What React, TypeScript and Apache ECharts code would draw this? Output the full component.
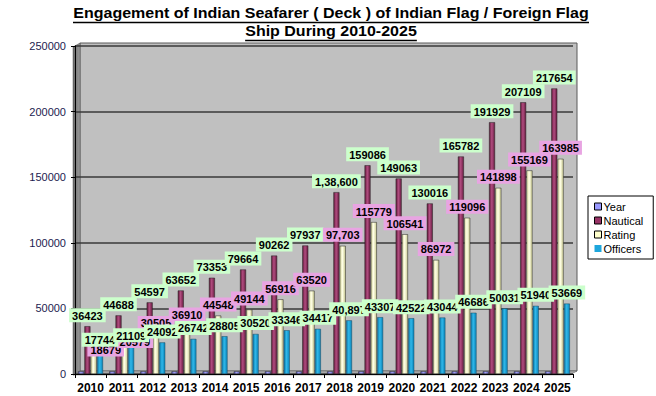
import React, { useEffect, useRef } from "react";
import * as echarts from "echarts";

const years = [2010, 2011, 2012, 2013, 2014, 2015, 2016, 2017, 2018, 2019, 2020, 2021, 2022, 2023, 2024, 2025];
const nautical = [36423, 44688, 54597, 63652, 73353, 79664, 90262, 97937, 138600, 159086, 149063, 130016, 165782, 191929, 207109, 217654];
const rating = [18679, 20579, 30505, 36910, 44548, 49144, 56916, 63520, 97703, 115779, 106541, 86972, 119096, 141898, 155169, 163985];
const officers = [17744, 21109, 24092, 26742, 28805, 30520, 33346, 34417, 40897, 43307, 42522, 43044, 46686, 50031, 51940, 53669];
const yTicks = [0, 50000, 100000, 150000, 200000, 250000];
const titleLines = ["Engagement of Indian Seafarer ( Deck ) of Indian Flag / Foreign Flag", "Ship During 2010-2025"];
const indianFormatYears = [2018];

function indianGroup(v: number): string {
  const s = String(v);
  if (s.length <= 3) return s;
  const last3 = s.slice(-3);
  let rest = s.slice(0, -3);
  const parts: string[] = [];
  while (rest.length > 2) {
    parts.unshift(rest.slice(-2));
    rest = rest.slice(0, -2);
  }
  if (rest) parts.unshift(rest);
  return parts.join(",") + "," + last3;
}

const FONT = '"Liberation Sans", Arial, sans-serif';

function measure(text: string, font: string): number {
  const c = document.createElement("canvas");
  const ctx = c.getContext("2d");
  if (!ctx) return text.length * 7.5;
  ctx.font = font;
  return ctx.measureText(text).width;
}

export default function App() {
  const ref = useRef<HTMLDivElement>(null);
  useEffect(() => {
    if (!ref.current) return;
    const chart = echarts.init(ref.current, undefined, { renderer: "svg" });

    const fmt = (p: any) =>
      indianFormatYears.includes(years[p.dataIndex]) ? indianGroup(p.value) : String(p.value);

    const labelBase = {
      show: true,
      position: "top" as const,
      distance: 4,
      fontFamily: FONT,
      fontWeight: "bold" as const,
      fontSize: 11,
      color: "#000",
      padding: [2, 3, 1, 3],
      formatter: fmt,
    };

    const ratingOffsets: Record<number, number[]> = { 0: [12, 11], 1: [10, 5] };

    const titleFont = `bold 15px ${FONT}`;
    const w1 = measure(titleLines[0], titleFont);
    const sx = 516 / w1;
    const w2 = measure(titleLines[1], titleFont) * sx;
    const cx = 331;

    const grad = (a: string, b: string, c: string) => ({
      type: "linear",
      x: 0,
      y: 0,
      x2: 1,
      y2: 0,
      colorStops: [
        { offset: 0, color: a },
        { offset: 0.45, color: b },
        { offset: 1, color: c },
      ],
    });

    const option: any = {
      animation: false,
      backgroundColor: "#ffffff",
      grid: { left: 75, right: 83, top: 46, bottom: 22 },
      legend: {
        orient: "vertical",
        left: 588,
        top: 196,
        width: 66,
        padding: [5, 10, 5, 6],
        backgroundColor: "#ffffff",
        borderColor: "#000000",
        borderWidth: 1,
        itemWidth: 7,
        itemHeight: 7,
        itemGap: 3,
        icon: "rect",
        textStyle: { fontFamily: FONT, fontSize: 11, color: "#000", padding: [0, 0, 0, -3] },
        data: [
          { name: "Year", itemStyle: { color: "#9999ff", borderColor: "#000", borderWidth: 1 } },
          { name: "Nautical", itemStyle: { color: "#993366", borderColor: "#000", borderWidth: 1 } },
          { name: "Rating", itemStyle: { color: "#ffffcc", borderColor: "#000", borderWidth: 1 } },
          { name: "Officers", itemStyle: { color: "#1ea6dc", borderWidth: 0 } },
        ],
      },
      xAxis: {
        type: "category",
        data: years.map(String),
        axisLine: { show: true, lineStyle: { color: "#000", width: 1 } },
        axisTick: { show: true, length: 4, lineStyle: { color: "#000" } },
        axisLabel: { interval: 0, fontFamily: FONT, fontWeight: "bold", fontSize: 12, color: "#000", margin: 8 },
      },
      yAxis: {
        type: "value",
        min: yTicks[0],
        max: yTicks[yTicks.length - 1],
        interval: yTicks[1] - yTicks[0],
        axisLine: { show: true, lineStyle: { color: "#000", width: 1 } },
        axisTick: { show: true, length: 4, lineStyle: { color: "#000" } },
        axisLabel: { formatter: (v: number) => String(v), fontFamily: FONT, fontSize: 11, color: "#1c1c50", margin: 9 },
        splitLine: { show: true, lineStyle: { color: "#3a3a3a", width: 1.5 } },
      },
      graphic: [
        {
          type: "rect",
          z: -10,
          shape: { x: 80, y: 43, width: 497, height: 328 },
          style: { fill: "#c0c0c0", stroke: "#5a5a5a", lineWidth: 1 },
        },
        {
          type: "polygon",
          z: -10,
          shape: { points: [[73, 47], [80, 43], [80, 371], [73, 375]] },
          style: {
            fill: { type: "linear", x: 0, y: 0, x2: 1, y2: 0, colorStops: [{ offset: 0, color: "#6a6a6a" }, { offset: 1, color: "#9a9a9a" }] },
            stroke: "#555",
            lineWidth: 0.5,
          },
        },
        {
          type: "polygon",
          z: -10,
          shape: { points: [[73, 375], [80, 371], [577, 371], [570, 375]] },
          style: { fill: "#a8a8a8", stroke: "#666", lineWidth: 0.5 },
        },
        {
          type: "text",
          x: cx,
          y: 20,
          scaleX: sx,
          style: { text: titleLines[0], font: titleFont, fill: "#000", textAlign: "center", textVerticalAlign: "bottom" },
        },
        {
          type: "line",
          shape: { x1: cx - 258, y1: 22.5, x2: cx + 258, y2: 22.5 },
          style: { stroke: "#000", lineWidth: 1.5 },
        },
        {
          type: "text",
          x: cx,
          y: 38,
          scaleX: sx,
          style: { text: titleLines[1], font: titleFont, fill: "#000", textAlign: "center", textVerticalAlign: "bottom" },
        },
        {
          type: "line",
          shape: { x1: cx - w2 / 2, y1: 40.5, x2: cx + w2 / 2, y2: 40.5 },
          style: { stroke: "#000", lineWidth: 1.5 },
        },
      ],
      series: [
        {
          name: "Year",
          type: "bar",
          data: years,
          barWidth: 6,
          barGap: "5%",
          itemStyle: { color: grad("#5050b0", "#aaaaff", "#6060c0"), borderColor: "#222", borderWidth: 0.5 },
        },
        {
          name: "Nautical",
          type: "bar",
          data: nautical,
          barWidth: 6,
          barGap: "5%",
          itemStyle: { color: grad("#5e1838", "#b24c80", "#661c40"), borderColor: "#222", borderWidth: 0.5 },
          label: { ...labelBase, backgroundColor: "#ccffcc" },
        },
        {
          name: "Rating",
          type: "bar",
          data: rating.map((v, i) =>
            ratingOffsets[i] ? { value: v, label: { offset: ratingOffsets[i] } } : v
          ),
          barWidth: 6,
          barGap: "5%",
          itemStyle: { color: grad("#d8d8a0", "#ffffe6", "#c8c890"), borderColor: "#222", borderWidth: 0.5 },
          label: { ...labelBase, backgroundColor: "#e8a4e2" },
        },
        {
          name: "Officers",
          type: "bar",
          data: officers,
          barWidth: 6,
          barGap: "5%",
          itemStyle: { color: grad("#0a78a8", "#30b8ea", "#0a84b8"), borderColor: "#1a4a60", borderWidth: 0.5 },
          label: { ...labelBase, backgroundColor: "#ccffcc" },
        },
      ],
    };

    chart.setOption(option);
    return () => chart.dispose();
  }, []);

  return (
    <div
      ref={ref}
      style={{ position: "fixed", left: 0, top: 0, width: 656, height: 396 }}
    />
  );
}
